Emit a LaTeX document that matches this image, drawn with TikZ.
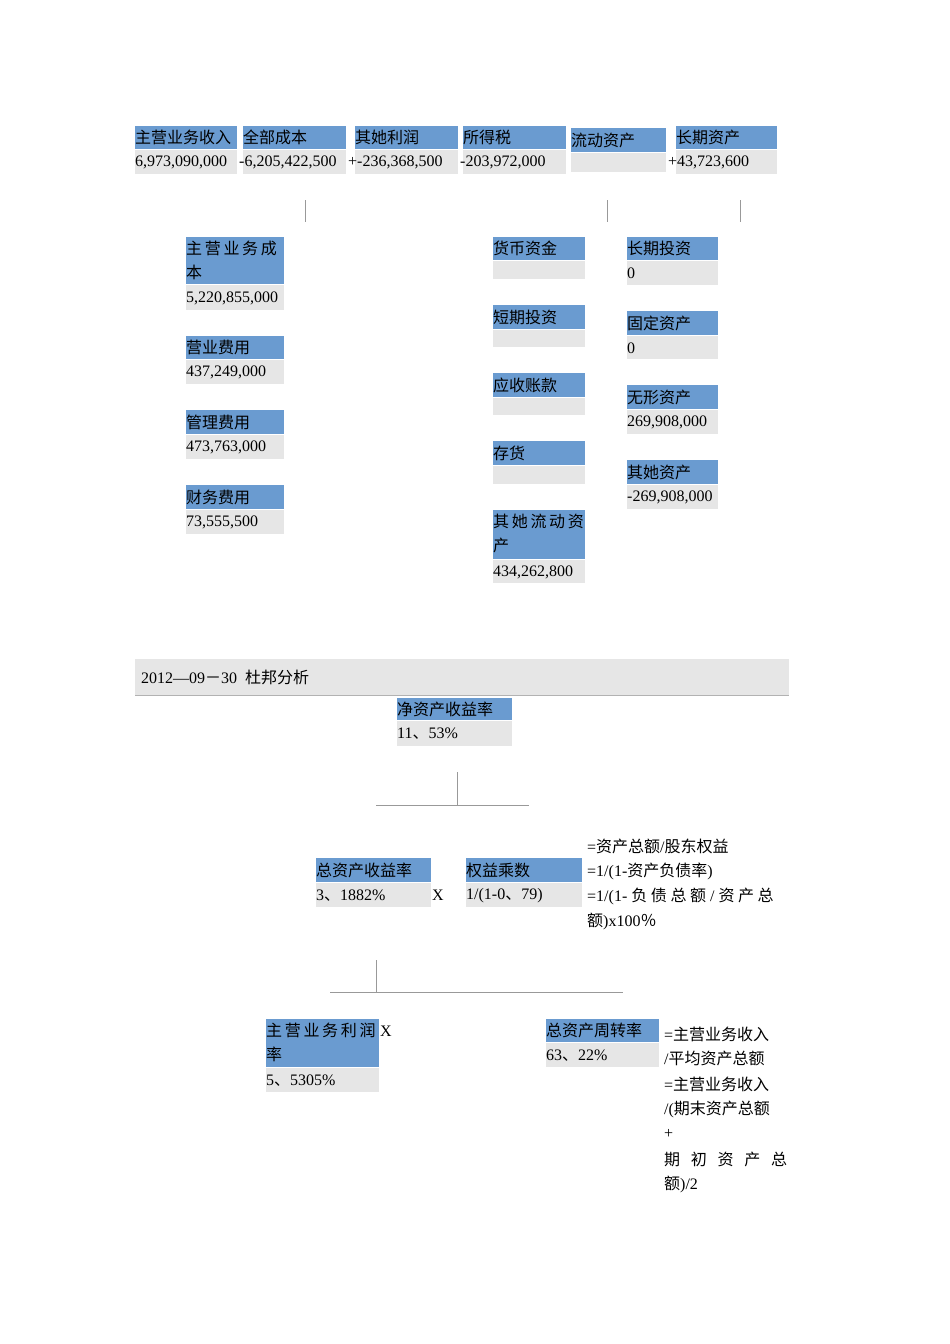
\documentclass[tikz,border=0pt]{standalone}
\usepackage{fontspec}
\setmainfont{Liberation Serif}
\newfontfamily\cjk{Noto Sans CJK SC}
\definecolor{hb}{HTML}{6A9BD0}
\definecolor{vb}{HTML}{E6E6E6}
\tikzset{t/.style={anchor=west,inner sep=0pt,font=\fontsize{16}{17}\selectfont\cjk},
n/.style={anchor=west,inner sep=0pt,font=\fontsize{16}{17}\selectfont},
ln/.style={draw=gray!80,line width=0.8pt}}
\newcommand\C[1]{{\cjk #1}}
\newcommand\bx[7]{\fill[hb] (#1,#3) rectangle (#2,#4);\fill[vb] (#1,#4+1) rectangle (#2,#5);
\node[t] at (#1,{(#3+#4)/2}) {#6};\node[n] at (#1,{(#4+#5)/2+1}) {#7};}
\newcommand\bxx[8]{\fill[hb] (#1,#3) rectangle (#2,#4);\fill[vb] (#1,#4+1) rectangle (#2,#5);
\node[t] at (#1,#3+11) {#6};\node[t] at (#1,#3+35) {#7};\node[n] at (#1,{(#4+#5)/2+1}) {#8};}
\begin{document}
\begin{tikzpicture}[x=1pt,y=-1pt]
\useasboundingbox (0,0) rectangle (950,1344);
\bx{135}{237}{126}{149}{174}{主营业务收入}{}
\node[n] (a1) at (135,162) {6,973,090,000};
\bx{243}{346}{126}{149}{174}{全部成本}{}
\node[n] (a2) at (239,162) {-6,205,422,500};
\bx{355}{458}{126}{149}{174}{其她利润}{}
\node[n] (a3) at (348,162) {+-236,368,500};
\bx{463}{566}{126}{149}{174}{所得税}{}
\node[n] (a4) at (460,162) {-203,972,000};
\bx{571}{666}{128}{152}{172}{流动资产}{}
\bx{676}{777}{126}{149}{174}{长期资产}{}
\node[n] (a6) at (668,162) {+43,723,600};
\draw[ln] (305,200) -- (305,222);
\draw[ln] (607,200) -- (607,222);
\draw[ln] (740,200) -- (740,222);
\bxx{186}{284}{237}{284}{310}{主\,营\,业\,务\,成}{本}{5,220,855,000}
\bx{186}{284}{336}{359}{384}{营业费用}{437,249,000}
\bx{186}{284}{410}{434}{459}{管理费用}{473,763,000}
\bx{186}{284}{485}{509}{534}{财务费用}{73,555,500}
\bx{493}{585}{237}{260}{279}{货币资金}{}
\bx{493}{585}{305}{329}{347}{短期投资}{}
\bx{493}{585}{373}{397}{415}{应收账款}{}
\bx{493}{585}{441}{465}{484}{存货}{}
\bxx{493}{585}{510}{559}{583}{其\,她\,流\,动\,资}{产}{434,262,800}
\bx{627}{718}{237}{260}{285}{长期投资}{0}
\bx{627}{718}{311}{335}{359}{固定资产}{0}
\bx{627}{718}{385}{409}{434}{无形资产}{269,908,000}
\bx{627}{718}{460}{484}{509}{其她资产}{-269,908,000}
\fill[vb] (135,659) rectangle (789,695);
\draw[gray!60] (135,695) -- (789,695);
\node[n] (title) at (141,677) {2012—09\C{－}30\ \ \C{杜邦分析}};
\bx{397}{512}{698}{720}{746}{净资产收益率}{11\C{、}53\%}
\draw[ln] (457,772) -- (457,805);
\draw[ln] (376,805) -- (529,805);
\bx{316}{431}{858}{882}{907}{总资产收益率}{3\C{、}1882\%}
\node[n] (x1) at (432,895) {X};
\bx{466}{582}{858}{882}{907}{权益乘数}{1/(1-0\C{、}79)}
\node[n] (e1) at (587,846) {=\C{资产总额}/\C{股东权益}};
\node[n] (e2) at (587,871) {=1/(1-\C{资产负债率})};
\node[n] (e3) at (587,896) {=1/(1-\ \C{负\ 债\ 总\ 额}\ /\ \C{资\ 产\ 总}};
\node[n] (e4) at (587,921) {\C{额})x100\C{％}};
\draw[ln] (376,960) -- (376,992);
\draw[ln] (330,992) -- (623,992);
\bxx{266}{379}{1019}{1067}{1092}{主\,营\,业\,务\,利\,润}{率}{5\C{、}5305\%}
\node[n] (x2) at (380,1031) {X};
\bx{546}{659}{1019}{1042}{1067}{总资产周转率}{63\C{、}22\%}
\node[n] (f1) at (664,1034) {=\C{主营业务收入}};
\node[n] (f2) at (664,1058) {/\C{平均资产总额}};
\node[n] (f3) at (664,1084) {=\C{主营业务收入}};
\node[n] (f4) at (664,1109) {/(\C{期末资产总额}};
\node[n] (f5) at (664,1134) {+};
\node[t] (f6) at (664,1159) {期\ \ \ 初\ \ \ 资\ \ \ 产\ \ \ 总};
\node[n] (f7) at (664,1184) {\C{额})/2};
\end{tikzpicture}
\end{document}
